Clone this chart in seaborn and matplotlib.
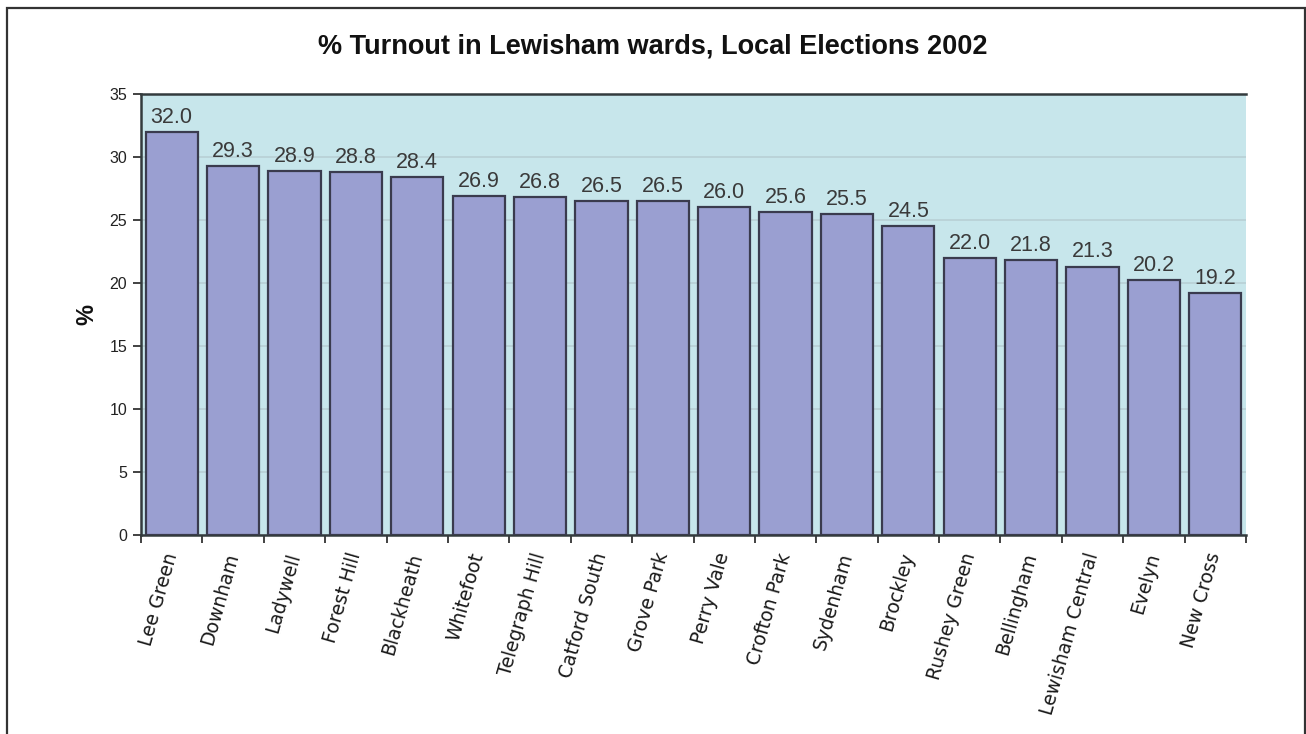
import numpy as np
import pandas as pd
import matplotlib
matplotlib.use("Agg")
import matplotlib.pyplot as plt
from matplotlib.patches import Rectangle
import seaborn as sns

# Ward turnout figures, local elections 2002
wards = ["Lee Green", "Downham", "Ladywell", "Forest Hill", "Blackheath",
         "Whitefoot", "Telegraph Hill", "Catford South", "Grove Park",
         "Perry Vale", "Crofton Park", "Sydenham", "Brockley", "Rushey Green",
         "Bellingham", "Lewisham Central", "Evelyn", "New Cross"]
turnout = [32.0, 29.3, 28.9, 28.8, 28.4, 26.9, 26.8, 26.5, 26.5, 26.0,
           25.6, 25.5, 24.5, 22.0, 21.8, 21.3, 20.2, 19.2]
y_ticks = [0, 5, 10, 15, 20, 25, 30, 35]

df = pd.DataFrame({"ward": wards, "turnout": turnout})

sns.set_theme(style="white")
plt.rcParams["font.family"] = ["Liberation Sans", "DejaVu Sans"]

fig = plt.figure(figsize=(13.06, 7.34), dpi=100)
ax = fig.add_axes([141 / 1306, 1 - 535 / 734, (1246 - 141) / 1306, (535 - 94) / 734])

bar_face = "#9a9fd1"
bar_edge = "#3a3b4e"
ax.set_facecolor("#c7e6eb")

sns.barplot(data=df, x="ward", y="turnout", color=bar_face, saturation=1,
            width=0.85, edgecolor=bar_edge, linewidth=1.6, ax=ax, zorder=3)

ax.set_xlim(-0.5, len(wards) - 0.5)
ax.set_ylim(0, 35)
ax.set_yticks(y_ticks)
ax.set_yticklabels([str(v) for v in y_ticks], fontsize=11.5, color="#222222")
ax.yaxis.grid(True, color="#b8d0d5", linewidth=1.2, zorder=0)
ax.xaxis.grid(False)
ax.set_axisbelow(True)

# Category labels at bar centres, tick marks at category boundaries
ax.set_xticks(np.arange(len(wards)))
ax.set_xticklabels(wards, rotation=74, ha="right", va="center",
                   rotation_mode="anchor", fontsize=13.5, color="#1a1a1a",
                   family=["DejaVu Sans"])
ax.tick_params(axis="x", which="major", length=0, pad=13)
ax.set_xticks(np.arange(len(wards) + 1) - 0.5, minor=True)
ax.tick_params(axis="x", which="minor", length=6, width=1.3, color="#333333",
               direction="out", bottom=True)
ax.tick_params(axis="y", length=6, width=1.3, color="#333333", direction="out",
               left=True, pad=4)
ax.set_xlabel("")
ax.set_ylabel("%", fontsize=17, fontweight="bold", labelpad=8, color="#111111")

for side in ["left", "bottom", "top"]:
    ax.spines[side].set_visible(True)
    ax.spines[side].set_color("#333b3d")
    ax.spines[side].set_linewidth(1.8)
ax.spines["right"].set_visible(False)

# Value labels above each bar
for i, v in enumerate(turnout):
    ax.annotate(f"{v:.1f}", (i, v), xytext=(0, 3), textcoords="offset points",
                ha="center", va="bottom", fontsize=15.5, color="#3a3a3a", zorder=4)

fig.text(0.5, 1 - 47 / 734, "% Turnout in Lewisham wards, Local Elections 2002",
         ha="center", va="center", fontsize=19.5, fontweight="bold", color="#111111")

# Outer frame around the chart
fig.patches.append(Rectangle((7 / 1306, -0.05), (1305 - 7) / 1306, 1.05 - 8 / 734,
                             transform=fig.transFigure, fill=False,
                             edgecolor="#333333", linewidth=1.6))

fig.savefig("out.png", dpi=100, facecolor="white")
